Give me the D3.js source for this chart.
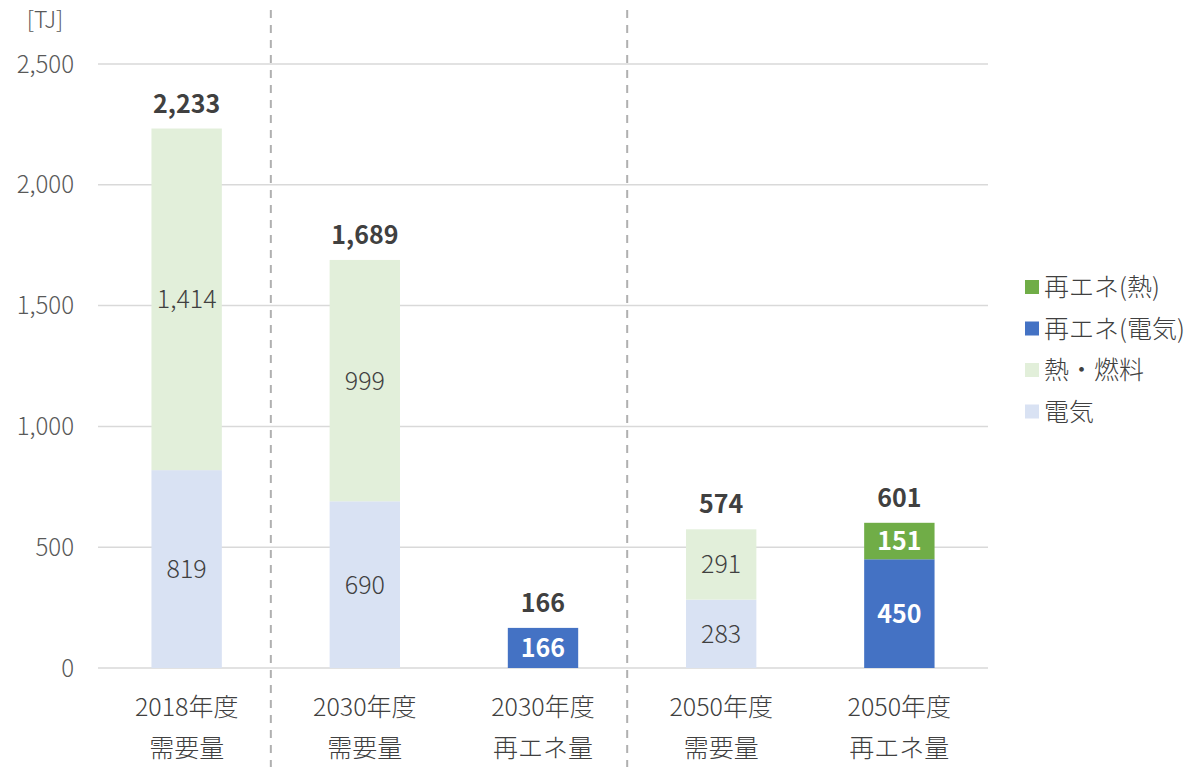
<!DOCTYPE html>
<html lang="ja">
<head>
<meta charset="UTF-8">
<title>需要量と再エネ量</title>
<script src="https://cdn.jsdelivr.net/npm/d3@7"></script>
<style>
  body { margin: 0; background: #fff; }
  text { font-family: 'Noto Sans CJK JP', 'Noto Sans', sans-serif; }
</style>
</head>
<body>
<div id="chart"></div>
<script>
// data
const categories = ["2018年度\n需要量", "2030年度\n需要量", "2030年度\n再エネ量", "2050年度\n需要量", "2050年度\n再エネ量"];
const seriesNames = ["電気", "熱・燃料", "再エネ(電気)", "再エネ(熱)"];
const electricity = [819, 690, 0, 283, 0];
const heatFuel = [1414, 999, 0, 291, 0];
const reElectric = [0, 0, 166, 0, 450];
const reHeat = [0, 0, 0, 0, 151];
const yTicks = [0, 500, 1000, 1500, 2000, 2500];

const colors = ["#d9e2f3", "#e2efda", "#4472c4", "#70ad47"];
const labelColors = ["#404040", "#404040", "#ffffff", "#ffffff"];
const labelWeights = [300, 300, 700, 700];

const width = 1204, height = 767;
const margin = { left: 98, right: 216, top: 64, bottom: 99 };

const svg = d3.select("#chart").append("svg")
  .attr("width", width).attr("height", height);

const rows = categories.map((c, i) => ({
  cat: c,
  "電気": electricity[i],
  "熱・燃料": heatFuel[i],
  "再エネ(電気)": reElectric[i],
  "再エネ(熱)": reHeat[i]
}));
const stacked = d3.stack().keys(seriesNames)(rows);

const x = d3.scaleBand().domain(categories)
  .range([margin.left, width - margin.right])
  .paddingInner(0.605).paddingOuter(0.3);
const y = d3.scaleLinear().domain([0, 2500])
  .range([height - margin.bottom, margin.top]);

// grid
svg.append("g").selectAll("line").data(yTicks).join("line")
  .attr("x1", margin.left).attr("x2", width - margin.right)
  .attr("y1", d => y(d)).attr("y2", d => y(d))
  .attr("stroke", "#d9d9d9").attr("stroke-width", 1.5);

// y axis labels
svg.append("g").selectAll("text").data(yTicks).join("text")
  .attr("x", 74).attr("y", d => y(d)).attr("dy", "0.36em")
  .attr("text-anchor", "end").attr("font-size", 24).attr("font-weight", 300)
  .attr("fill", "#595959")
  .text(d3.format(","));

svg.append("text").attr("x", 45).attr("y", 20).attr("dy", "0.36em")
  .attr("text-anchor", "middle").attr("font-size", 23).attr("font-weight", 300)
  .attr("fill", "#595959")
  .text("[TJ]");

// dashed separators
const step = x.step();
[1, 3].forEach(i => {
  const sx = x(categories[i]) - step * 0.33;
  svg.append("line")
    .attr("x1", sx).attr("x2", sx).attr("y1", 10).attr("y2", height)
    .attr("stroke", "#b0b0b0").attr("stroke-width", 2)
    .attr("stroke-dasharray", "8,7");
});

// bars
stacked.forEach((s, si) => {
  const g = svg.append("g");
  g.selectAll("rect").data(s.filter(d => d[1] - d[0] > 0)).join("rect")
    .attr("x", d => x(d.data.cat))
    .attr("width", x.bandwidth())
    .attr("y", d => y(d[1]))
    .attr("height", d => y(d[0]) - y(d[1]))
    .attr("fill", colors[si]);
  g.selectAll("text").data(s.filter(d => d[1] - d[0] > 0)).join("text")
    .attr("x", d => x(d.data.cat) + x.bandwidth() / 2)
    .attr("y", d => (y(d[0]) + y(d[1])) / 2)
    .attr("dy", "0.36em")
    .attr("text-anchor", "middle")
    .attr("font-size", 25)
    .attr("font-weight", labelWeights[si])
    .attr("fill", labelColors[si])
    .text(d => d3.format(",")(d[1] - d[0]));
});

// totals
const totals = categories.map((c, i) => electricity[i] + heatFuel[i] + reElectric[i] + reHeat[i]);
svg.append("g").selectAll("text").data(categories).join("text")
  .attr("x", d => x(d) + x.bandwidth() / 2)
  .attr("y", (d, i) => y(totals[i]) - 16)
  .attr("text-anchor", "middle")
  .attr("font-size", 25).attr("font-weight", 700).attr("fill", "#404040")
  .text((d, i) => d3.format(",")(totals[i]));

// x labels
const xl = svg.append("g").selectAll("text").data(categories).join("text")
  .attr("x", d => x(d) + x.bandwidth() / 2)
  .attr("y", 707)
  .attr("text-anchor", "middle")
  .attr("font-size", 25).attr("font-weight", 300).attr("fill", "#404040");
xl.selectAll("tspan").data(d => d.split("\n")).join("tspan")
  .attr("x", function () { return d3.select(this.parentNode).attr("x"); })
  .attr("y", (d, i) => 707 + i * 41)
  .attr("dy", "0.35em")
  .text(d => d);

// legend (reverse order)
const legendItems = seriesNames.map((n, i) => ({ n, c: colors[i] })).reverse();
const lg = svg.append("g").selectAll("g").data(legendItems).join("g")
  .attr("transform", (d, i) => `translate(1025, ${287 + i * 41.5})`);
lg.append("rect").attr("x", 0).attr("y", -7).attr("width", 14).attr("height", 14)
  .attr("fill", d => d.c);
lg.append("text").attr("x", 19).attr("dy", "0.36em")
  .attr("font-size", 25).attr("font-weight", 300).attr("fill", "#404040")
  .text(d => d.n);
</script>
</body>
</html>
